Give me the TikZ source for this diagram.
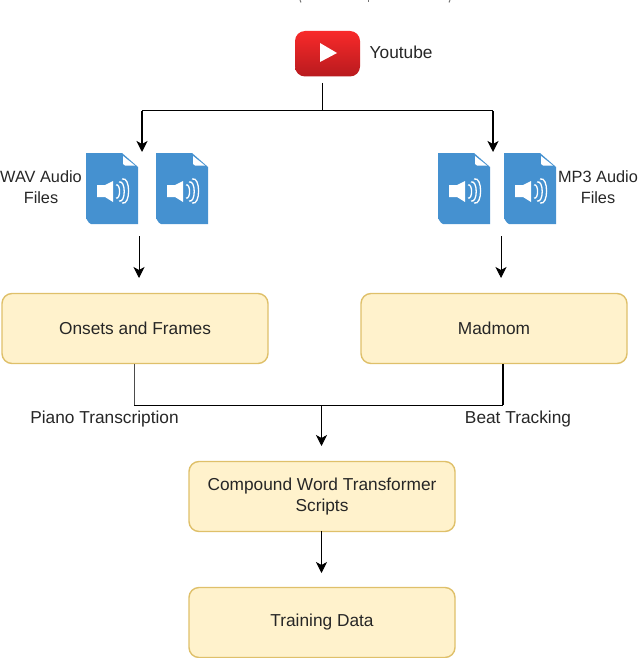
\documentclass[tikz,border=0pt]{standalone}
\usepackage{fontspec}
\setmainfont{Liberation Sans}
\usetikzlibrary{arrows.meta}
\definecolor{boxfill}{HTML}{FFF2CC}
\definecolor{boxline}{HTML}{DFC06A}
\definecolor{fileblue}{HTML}{4591D0}
\definecolor{ytop}{HTML}{F82A2A}
\definecolor{ybot}{HTML}{B81A1E}
\tikzset{
 x=1pt,y=-1pt,
 flowbox/.style={draw=boxline,line width=1.4pt,fill=boxfill,rounded corners=10pt,minimum width=266pt,minimum height=70pt,inner sep=2pt,align=center,font=\fontsize{17.3}{21}\selectfont,text=black!85},
 lbl/.style={font=\fontsize{17.3}{21}\selectfont,align=center,text=black!85,inner sep=0pt},
 sidelbl/.style={lbl,font=\fontsize{16.3}{21}\selectfont},
 conn/.style={line width=1pt,draw=black},
 arrow/.style={conn,-{Stealth[length=11pt,width=11pt,inset=3pt]}},
 arrowbig/.style={line width=1.4pt,draw=black,-{Stealth[length=11pt,width=11pt,inset=3pt]}},
}
% file icon: #1 = left, #2 = name
\newcommand{\fileicon}[2]{%
 \begin{scope}[shift={(#1,153)}]
  \node[minimum width=52pt,minimum height=71pt,inner sep=0pt,anchor=north west] (#2) at (0,0) {};
  \fill[fileblue] (0,0) -- (36,0) -- (52,14) -- (52,71) -- (5,71) to[out=180,in=90] (0,66) -- cycle;
  \fill[white] (37,3) -- (37,11) -- (39,12.5) -- (49,12.5) -- cycle;
  \fill[white] (11,32) -- (19,32) -- (27,28) -- (27,49) -- (19,44) -- (11,44) -- cycle;
  \draw[white,line width=1.3pt] (30,32) to[out=20,in=-20] (30,45);
  \draw[white,line width=1.3pt] (33,29) to[out=20,in=-20] (33,48);
  \draw[white,line width=1.3pt] (36,26) to[out=20,in=-20] (36,50);
 \end{scope}}
\begin{document}
\begin{tikzpicture}
\useasboundingbox (0,0) rectangle (640,658);
% specks left by a line of text cut off at the top edge
\draw[black!55,line width=1pt] (300,0) -- (301,2.5);
\draw[black!55,line width=1pt] (368,0) -- (368,2.5);
\draw[black!55,line width=1pt] (450,0) -- (449,2.5);
% YouTube icon
\node[minimum width=65pt,minimum height=45pt,inner sep=0pt] (yt) at (327,53.5) {};
\shade[top color=ytop,bottom color=ybot,rounded corners=10pt] (295,31) rectangle (360,76.5);
\fill[white] (320,43) -- (337,53) -- (320,62) -- cycle;
\node[lbl,anchor=west] (youtube) at (369.5,52) {Youtube};
% files
\fileicon{86}{w1}
\fileicon{156}{w2}
\fileicon{438}{m1}
\fileicon{504}{m2}
\node[sidelbl] (wavl) at (41,187.5) {WAV Audio\\Files};
\node[sidelbl] (mp3l) at (598,187.5) {MP3 Audio\\Files};
% boxes
\node[flowbox] (of) at (135,328.5) {Onsets and Frames};
\node[flowbox] (mm) at (494,328.5) {Madmom};
\node[flowbox] (cw) at (322,496.5) {Compound Word Transformer\\Scripts};
\node[flowbox] (td) at (322,622.5) {Training Data};
% connectors
\coordinate (ytfoot) at (322,83);
\coordinate (split) at (322,111);
\coordinate (wavcorner) at (142,111);
\coordinate (mp3corner) at (493,111);
\coordinate (wavin) at (142,152);
\coordinate (mp3in) at (493,152);
\draw[conn] (ytfoot) -- (split);
\draw[conn] (wavcorner) -- (mp3corner);
\draw[arrowbig] (wavcorner) -- (wavin);
\draw[arrowbig] (mp3corner) -- (mp3in);
\coordinate (wavout) at (139,236);
\coordinate (wavof) at (139,278);
\coordinate (mp3out) at (501,236);
\coordinate (mp3mm) at (501,278);
\draw[arrow] (wavout) -- (wavof);
\draw[arrow] (mp3out) -- (mp3mm);
\coordinate (ofout) at (134,364);
\coordinate (mmout) at (503,364);
\coordinate (ofcorner) at (134,405);
\coordinate (mmcorner) at (503,405);
\coordinate (merge) at (321.5,405);
\coordinate (mergeend) at (321.5,446);
\draw[conn,draw=black!70] (ofout) -- (ofcorner);
\draw[conn,line width=1.3pt] (mmout) -- (mmcorner);
\draw[conn] (ofcorner) -- (mmcorner);
\draw[arrow] (merge) -- (mergeend);
\coordinate (cwout) at (321.5,531);
\coordinate (tdin) at (321.5,573);
\draw[arrow] (cwout) -- (tdin);
\node[lbl] (pt) at (104.5,419) {Piano Transcription};
\node[lbl] (bt) at (518,419) {Beat Tracking};
\end{tikzpicture}
\end{document}
